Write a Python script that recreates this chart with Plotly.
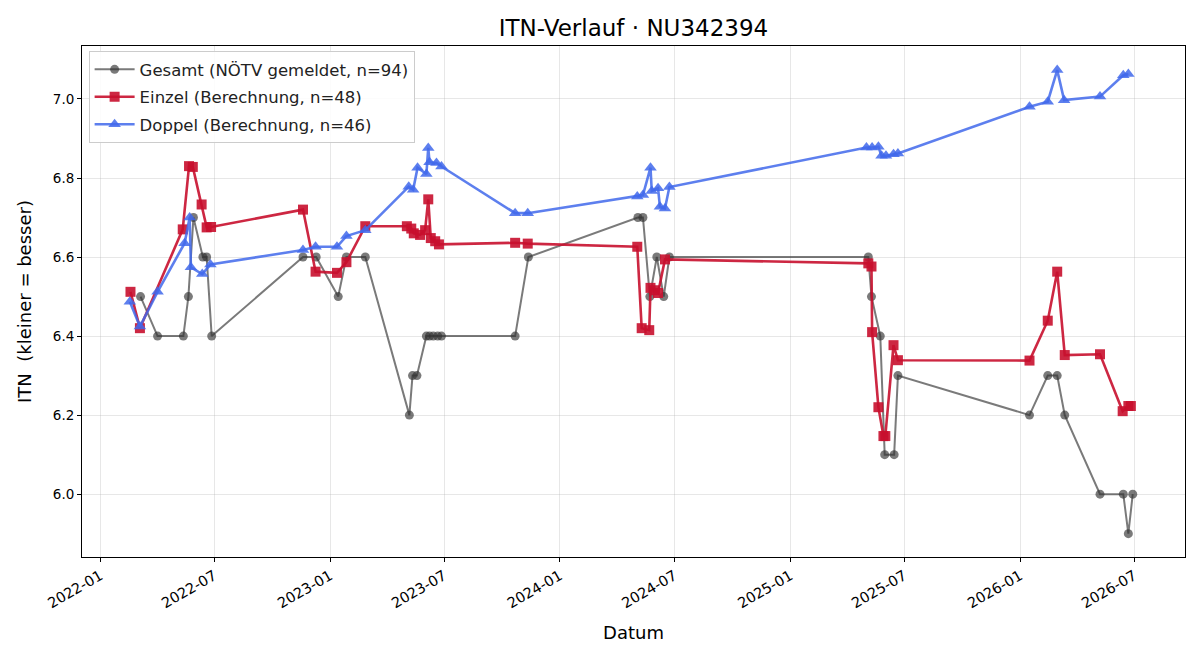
import plotly.graph_objects as go

# ---- data ----
gesamt_dates = [
    "2022-03-06", "2022-04-02", "2022-05-13", "2022-05-21", "2022-05-29", "2022-06-13",
    "2022-06-19", "2022-06-27", "2022-11-19", "2022-12-10", "2023-01-14", "2023-01-27",
    "2023-02-26", "2023-05-07", "2023-05-12", "2023-05-19", "2023-06-03", "2023-06-08",
    "2023-06-14", "2023-06-21", "2023-06-27", "2023-10-22", "2023-11-12", "2024-05-04",
    "2024-05-12", "2024-05-23", "2024-06-03", "2024-06-14", "2024-06-23", "2025-05-05",
    "2025-05-10", "2025-05-24", "2025-05-31", "2025-06-15", "2025-06-21", "2026-01-16",
    "2026-02-14", "2026-03-01", "2026-03-13", "2026-05-08", "2026-06-14", "2026-06-22",
    "2026-06-29",
]
gesamt_itn = [
    6.5, 6.4, 6.4, 6.5, 6.7, 6.6,
    6.6, 6.4, 6.6, 6.6, 6.5, 6.6,
    6.6, 6.2, 6.3, 6.3, 6.4, 6.4,
    6.4, 6.4, 6.4, 6.4, 6.6, 6.7,
    6.7, 6.5, 6.6, 6.5, 6.6, 6.6,
    6.5, 6.4, 6.1, 6.1, 6.3, 6.2,
    6.3, 6.3, 6.2, 6.0, 6.0, 5.9,
    6.0,
]

einzel_dates = [
    "2022-02-18", "2022-03-05", "2022-05-12", "2022-05-22", "2022-05-28", "2022-06-11",
    "2022-06-19", "2022-06-26", "2022-11-19", "2022-12-09", "2023-01-12", "2023-01-27",
    "2023-02-26", "2023-05-03", "2023-05-10", "2023-05-14", "2023-05-24", "2023-06-01",
    "2023-06-06", "2023-06-10", "2023-06-17", "2023-06-23", "2023-10-22", "2023-11-11",
    "2024-05-03", "2024-05-10", "2024-05-22", "2024-05-24", "2024-05-31", "2024-06-05",
    "2024-06-16", "2025-05-05", "2025-05-10", "2025-05-11", "2025-05-21", "2025-05-29",
    "2025-06-01", "2025-06-14", "2025-06-21", "2026-01-16", "2026-02-14", "2026-03-01",
    "2026-03-13", "2026-05-08", "2026-06-13", "2026-06-22", "2026-06-26",
]
einzel_itn = [
    6.512, 6.420, 6.670, 6.830, 6.828, 6.733,
    6.675, 6.676, 6.720, 6.563, 6.560, 6.587,
    6.678, 6.678, 6.672, 6.660, 6.656, 6.668,
    6.746, 6.648, 6.640, 6.632, 6.636, 6.634,
    6.626, 6.420, 6.415, 6.522, 6.516, 6.509,
    6.594, 6.584, 6.576, 6.410, 6.220, 6.147,
    6.147, 6.377, 6.339, 6.338, 6.439, 6.563,
    6.352, 6.354, 6.210, 6.223, 6.223,
]

doppel_dates = [
    "2022-02-17", "2022-03-05", "2022-04-02", "2022-05-15", "2022-05-23", "2022-05-25",
    "2022-06-12", "2022-06-25", "2022-11-19", "2022-12-09", "2023-01-12", "2023-01-27",
    "2023-02-26", "2023-05-06", "2023-05-13", "2023-05-20", "2023-06-03", "2023-06-06",
    "2023-06-08", "2023-06-19", "2023-06-27", "2023-10-22", "2023-11-11", "2024-05-03",
    "2024-05-12", "2024-05-24", "2024-05-26", "2024-06-05", "2024-06-08", "2024-06-16",
    "2024-06-23", "2025-05-02", "2025-05-11", "2025-05-21", "2025-05-26", "2025-06-02",
    "2025-06-14", "2025-06-21", "2026-01-16", "2026-02-14", "2026-03-01", "2026-03-12",
    "2026-05-08", "2026-06-14", "2026-06-22",
]
doppel_itn = [
    6.487, 6.424, 6.512, 6.635, 6.700, 6.574,
    6.557, 6.581, 6.618, 6.626, 6.626, 6.653,
    6.668, 6.778, 6.770, 6.826, 6.810, 6.876,
    6.840, 6.838, 6.829, 6.711, 6.711, 6.753,
    6.757, 6.826, 6.767, 6.774, 6.727, 6.723,
    6.777, 6.877, 6.877, 6.879, 6.856, 6.856,
    6.860, 6.862, 6.980, 6.993, 7.073, 6.997,
    7.006, 7.060, 7.063,
]

y_ticks = [6.0, 6.2, 6.4, 6.6, 6.8, 7.0]
x_ticks = ["2022-01-01", "2022-07-01", "2023-01-01", "2023-07-01", "2024-01-01",
           "2024-07-01", "2025-01-01", "2025-07-01", "2026-01-01", "2026-07-01"]

FONT = "DejaVu Sans"

fig = go.Figure()
fig.add_trace(go.Scatter(
    x=gesamt_dates, y=gesamt_itn, mode="lines+markers",
    name="Gesamt (NÖTV gemeldet, n=94)", legendgroup="g",
    line=dict(color="rgba(51,51,51,0.65)", width=2),
    marker=dict(symbol="circle", size=9, color="rgba(51,51,51,0.65)", line=dict(width=0)),
))
fig.add_trace(go.Scatter(
    x=einzel_dates, y=einzel_itn, mode="lines+markers",
    name="Einzel (Berechnung, n=48)", legendgroup="e",
    line=dict(color="rgba(200,16,46,0.9)", width=2.6),
    marker=dict(symbol="square", size=10, color="rgba(200,16,46,0.9)", line=dict(width=0)),
))
fig.add_trace(go.Scatter(
    x=doppel_dates, y=doppel_itn, mode="lines+markers",
    name="Doppel (Berechnung, n=46)", legendgroup="d",
    line=dict(color="rgba(65,105,235,0.85)", width=2.6),
    marker=dict(symbol="triangle-up", size=11, color="rgba(65,105,235,0.85)", line=dict(width=0)),
))

axis_common = dict(
    showline=True, linecolor="black", linewidth=1, mirror=True,
    ticks="outside", ticklen=4, tickcolor="black", tickwidth=1,
    showgrid=True, gridcolor="rgba(176,176,176,0.3)", gridwidth=1,
    zeroline=False,
)

fig.update_layout(
    width=1200, height=660,
    margin=dict(l=82, r=15, t=46, b=103),
    paper_bgcolor="white", plot_bgcolor="white",
    font=dict(family=FONT, color="black"),
    title=dict(text="ITN-Verlauf · NU342394", x=0.5, xref="paper", xanchor="center",
               y=1 - 28 / 660, yref="container", yanchor="middle",
               font=dict(family=FONT, size=23, color="black")),
    xaxis=dict(
        axis_common, type="date", range=["2021-12-03", "2026-09-20"],
        tickvals=x_ticks, tickformat="%Y-%m", tickangle=-30,
        tickfont=dict(family=FONT, size=14.5, color="black"),
        title=dict(text="Datum", font=dict(family=FONT, size=18, color="black"), standoff=16),
    ),
    yaxis=dict(
        axis_common, range=[5.841, 7.134], tickvals=y_ticks, tickformat=".1f",
        tickfont=dict(family=FONT, size=13.5, color="black"),
        title=dict(text="ITN\u00a0 (kleiner = besser)", font=dict(family=FONT, size=18, color="black"), standoff=16),
    ),
    legend=dict(
        x=0.006, y=0.99, xanchor="left", yanchor="top",
        bgcolor="rgba(255,255,255,0.85)", bordercolor="#cccccc", borderwidth=1,
        font=dict(family=FONT, size=16.5, color="#222222"),
        itemwidth=40, tracegroupgap=3,
    ),
    showlegend=True,
)

fig.write_html("out.html")
